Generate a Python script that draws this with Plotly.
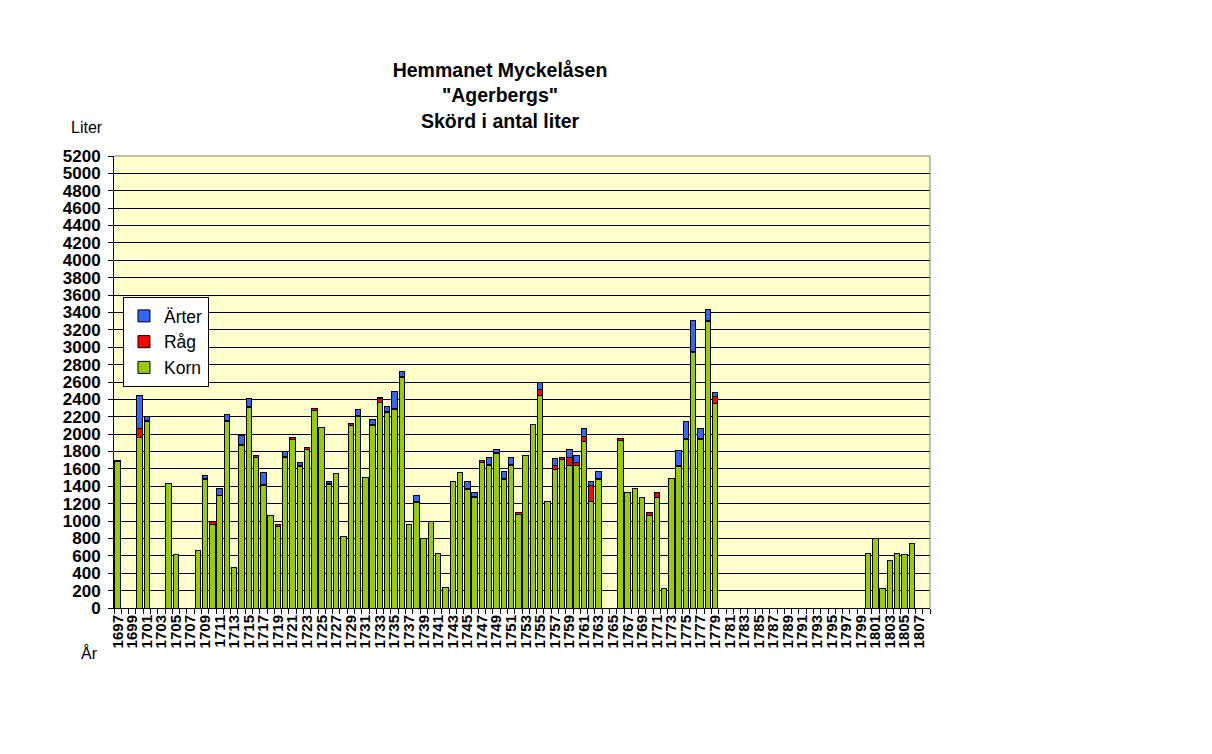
import plotly.graph_objects as go

# years on the category axis (1697-1808)
years = [str(y) for y in range(1697, 1809)]

# harvest in liters, None = no data that year
korn = [1690, None, None, 1960, 2150, None, None, 1430, 620, None,          # 1697-1706
        None, 660, 1480, 960, 1290, 2150, 470, 1870, 2310, 1730,            # 1707-1716
        1410, 1060, 935, 1735, 1935, 1625, 1825, 2270, 2080, 1420,          # 1717-1726
        1550, 825, 2100, 2200, 1500, 2100, 2360, 2245, 2280, 2650,          # 1727-1736
        955, 1210, 800, 990, 630, 240, 1460, 1560, 1365, 1275,              # 1737-1746
        1675, 1640, 1780, 1480, 1640, 1070, 1755, 2115, 2440, 1225,         # 1747-1756
        1595, 1710, 1640, 1640, 1915, 1225, 1480, None, None, 1925,         # 1757-1766
        1330, 1370, 1275, 1065, 1270, 225, 1485, 1625, 1935, 2940,          # 1767-1776
        1935, 3300, 2350, None, None, None, None, None, None, None,         # 1777-1786
        None, None, None, None, None, None, None, None, None, None,         # 1787-1796
        None, None, None, 630, 800, 225, 550, 630, 615, 745,                # 1797-1806
        None, None]                                                         # 1807-1808

rag = [10, None, None, 110, 10, None, None, None, None, None,
       None, None, 10, 30, 10, 10, None, 10, 10, 25,
       10, None, 30, 10, 30, 10, 25, 25, None, 10,
       None, None, 25, 10, None, 10, 45, 10, 10, 10,
       None, 10, None, None, None, None, None, None, 10, 10,
       25, 10, 10, 10, 10, 30, None, None, 70, None,
       50, 25, 95, 35, 60, 190, 10, None, None, 25,
       None, None, None, 30, 55, None, None, 10, 10, 10,
       10, 10, 80, None, None, None, None, None, None, None,
       None, None, None, None, None, None, None, None, None, None,
       None, None, None, None, None, None, None, None, None, None,
       None, None]

arter = [None, None, None, 370, 45, None, None, None, None, None,
         None, None, 40, None, 70, 70, None, 100, 90, None,
         140, None, None, 50, None, 35, None, None, None, 30,
         None, None, None, 75, None, 60, 15, 65, 200, 65,
         None, 80, None, None, None, None, None, None, 80, 40,
         None, 80, 35, 85, 85, None, None, None, 85, None,
         75, None, 90, 85, 90, 45, 80, None, None, None,
         None, None, None, None, None, None, None, 180, 200, 360,
         120, 125, 50, None, None, None, None, None, None, None,
         None, None, None, None, None, None, None, None, None, None,
         None, None, None, None, None, None, None, None, None, None,
         None, None]

tick_text = [y if int(y) % 2 == 1 else '' for y in years]

FONT = 'Arial, Liberation Sans, sans-serif'

fig = go.Figure()
for name, vals, col in [('Korn', korn, '#99CC00'),
                        ('Råg', rag, '#FF0000'),
                        ('Ärter', arter, '#3366FF')]:
    fig.add_trace(go.Bar(x=years, y=vals, name=name,
                         marker=dict(color=col, line=dict(color='black', width=1))))

# page body has an 8px margin, so everything is laid out 8px up/left
fig.update_layout(
    width=1212, height=754,
    barmode='stack', bargap=0.25,
    paper_bgcolor='white', plot_bgcolor='#FFFFCC',
    font=dict(family=FONT, size=16, color='black'),
    margin=dict(l=106, r=290, t=148, b=154, autoexpand=False),
    title=dict(text='<b>Hemmanet Myckelåsen<br>"Agerbergs"<br>Skörd i antal liter</b>',
               font=dict(size=19.5, family=FONT, color='black'),
               x=492 / 1212, xref='container', xanchor='center',
               y=1 - 69 / 754, yref='container', yanchor='top'),
    legend=dict(x=0.011, y=0.688, xanchor='left', yanchor='top',
                traceorder='reversed', bgcolor='white',
                bordercolor='black', borderwidth=1,
                font=dict(size=17.5, family=FONT, color='black')),
    xaxis=dict(type='category', tickmode='array', tickvals=years, ticktext=tick_text,
               tickangle=-90, tickson='boundaries', ticks='outside', ticklen=5,
               tickcolor='black', showline=True, linecolor='black', linewidth=1,
               showgrid=False, tickfont=dict(size=15, family=FONT, weight='bold')),
    yaxis=dict(range=[0, 5200], dtick=200, ticks='outside', ticklen=5,
               tickcolor='black', showline=True, linecolor='black', linewidth=1,
               showgrid=True, gridcolor='black', gridwidth=1, zeroline=False,
               ticklabelstandoff=4,
               tickfont=dict(size=17, family=FONT, weight='bold')),
    shapes=[dict(type='path', xref='paper', yref='paper',
                 path='M 0,1 L 1,1 L 1,0', line=dict(color='#808080', width=1))],
    annotations=[
        dict(text='Liter', xref='paper', yref='paper', x=-0.033, y=1 + 28 / 452,
             xanchor='center', yanchor='middle', showarrow=False,
             font=dict(size=16, family=FONT)),
        dict(text='År', xref='paper', yref='paper', x=-0.03, y=-45 / 452,
             xanchor='center', yanchor='middle', showarrow=False,
             font=dict(size=16, family=FONT)),
    ],
)

fig.write_html('out.html')
